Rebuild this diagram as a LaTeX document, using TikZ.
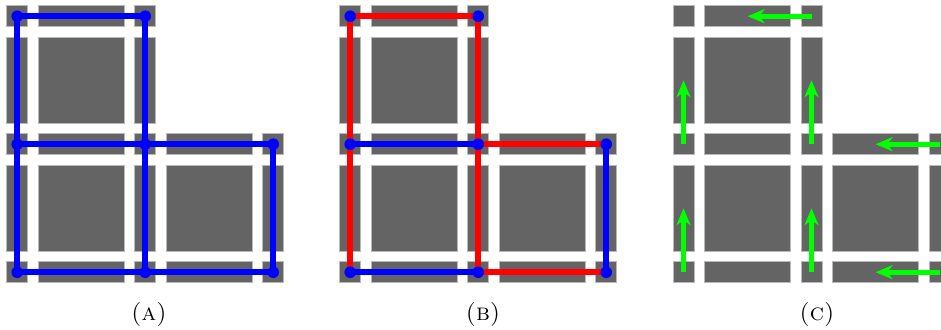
\documentclass[tikz,border=0pt]{standalone}
\usepackage{tikz}
\usetikzlibrary{calc}
\usetikzlibrary{arrows.meta}
\definecolor{tilegray}{RGB}{100,100,100}
\definecolor{tileedge}{RGB}{185,185,185}
\definecolor{flowgreen}{RGB}{0,255,0}
\tikzset{
	tile/.style={fill=tilegray, draw=tileedge, line width=0.5pt},
	bond/.style={line width=2.75pt},
	site/.style={circle, fill=blue, inner sep=0pt, minimum size=5.8pt},
	flow/.style={flowgreen, line width=2.5pt, -{Stealth[length=8.5pt, width=7pt, inset=2.5pt]}},
}
% grey lattice of one panel, local origin = site (0,0)
\newcommand{\latticetiles}[1]{%
	\foreach \i/\j in {0/0,1/0,0/1,1/1,2/1,0/2,1/2,2/2}{
		\draw[tile] (128*\i-10.5,128*\j-10.5) rectangle ++(21,21);
		\coordinate (#1\i\j) at (128*\i,128*\j);
	}
	\foreach \i/\j in {0/0,0/1,1/1,0/2,1/2}
		\draw[tile] (128*\i+21,128*\j-10.5) rectangle ++(86,21);
	\foreach \i/\j in {0/0,1/0,0/1,1/1,2/1}
		\draw[tile] (128*\i-10.5,128*\j+21) rectangle ++(21,86);
	\foreach \i/\j in {0/0,0/1,1/1}
		\draw[tile] (128*\i+21,128*\j+21) rectangle ++(86,86);
}
\begin{document}
\begin{tikzpicture}[x=0.5pt, y=-0.5pt]
		\useasboundingbox (0,0) rectangle (941,329);
		\clip (0,0) rectangle (941,329);
		\begin{scope}[shift={(17.2,16.2)}]
			\latticetiles{a}
			\foreach \u/\v in {a00/a10,a01/a11,a11/a21,a02/a12,a12/a22,a00/a01,a10/a11,a01/a02,a11/a12,a21/a22}
				\draw[bond, blue] (\u) -- (\v);
			\foreach \s in {a00,a10,a01,a11,a21,a02,a12,a22}
				\node[site] (dot-\s) at (\s) {};
		\end{scope}
		\begin{scope}[shift={(350.2,16.2)}]
			\latticetiles{b}
			\foreach \u/\v in {b00/b10,b11/b21,b12/b22,b00/b01,b10/b11,b01/b02,b11/b12}
				\draw[bond, red] (\u) -- (\v);
			\foreach \u/\v in {b01/b11,b02/b12,b21/b22}
				\draw[bond, blue] (\u) -- (\v);
			\foreach \s in {b00,b10,b01,b11,b21,b02,b12,b22}
				\node[site] (dot-\s) at (\s) {};
		\end{scope}
		\begin{scope}[shift={(683.5,16.2)}]
			\latticetiles{c}
			\foreach \u/\v in {c10/c00,c21/c11,c22/c12,c01/c00,c11/c10,c02/c01,c12/c11}
				\draw[flow] (\u) -- ($(\u)!0.5!(\v)$);
		\end{scope}
		
		\node (capA) at (149,314) {\large\textsc{(a)}};
		\node (capB) at (483,314) {\large\textsc{(b)}};
		\node (capC) at (817,314) {\large\textsc{(c)}};
	\end{tikzpicture}
\end{document}
